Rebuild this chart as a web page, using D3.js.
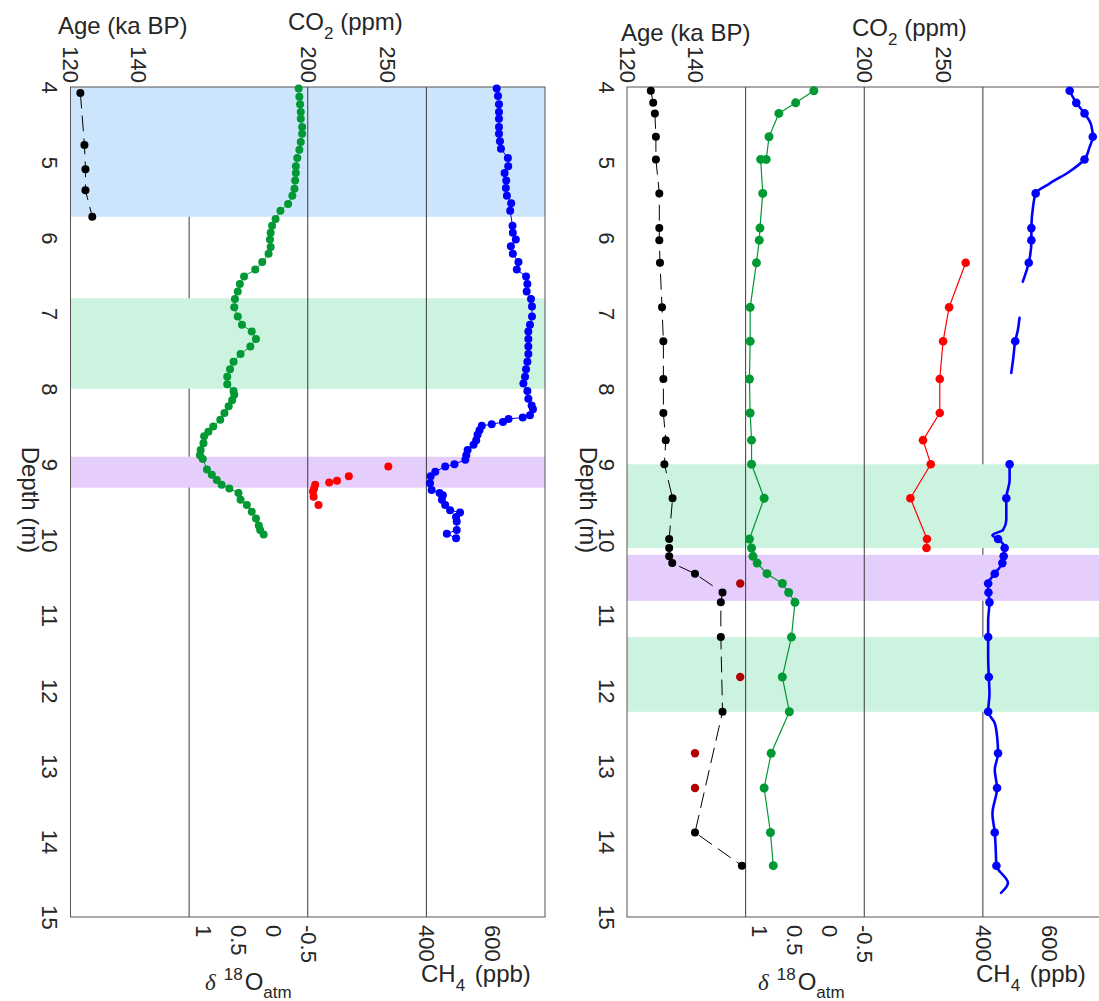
<!DOCTYPE html>
<html>
<head>
<meta charset="utf-8">
<script src="https://cdn.jsdelivr.net/npm/d3@7"></script>
<style>
  body { margin: 0; background: #fff; }
  svg text { font-family: "Liberation Sans", Arial, sans-serif; fill: #262626; }
</style>
</head>
<body>
<svg id="chart" width="1099" height="1001"></svg>
<script>
// ---- tick labels
const depthTicks = [4, 5, 6, 7, 8, 9, 10, 11, 12, 13, 14, 15];
const ageTicks = [120, 140];
const co2Ticks = [200, 250];
const isoTicks = [1, 0.5, 0, -0.5];
const ch4Ticks = [400, 600];

// ---- left core: shaded depth intervals
const bandStartL = [4.0, 6.80, 8.90];
const bandEndL = [5.72, 8.00, 9.31];
const bandKindL = ['blue', 'green', 'purple'];

// age (ka BP)
const ageDepthL = [4.08, 4.77, 5.09, 5.37, 5.72];
const ageL = [122.9, 124.1, 124.4, 124.4, 126.4];

// d18O atm (permil)
const isoDepthL = [4.02, 4.13, 4.23, 4.33, 4.42, 4.53, 4.62, 4.73, 4.83, 4.94,
  5.05, 5.14, 5.24, 5.35, 5.44, 5.55, 5.64, 5.75, 5.84, 5.93,
  6.02, 6.12, 6.21, 6.32, 6.42, 6.51, 6.61, 6.71, 6.81, 6.92,
  7.04, 7.15, 7.24, 7.34, 7.44, 7.54, 7.64, 7.74, 7.84, 7.94,
  8.03, 8.08, 8.15, 8.23, 8.32, 8.41, 8.50, 8.57, 8.63, 8.72,
  8.81, 8.88, 8.93, 9.07, 9.14, 9.21, 9.27, 9.32, 9.38, 9.47,
  9.54, 9.63, 9.72, 9.81, 9.87, 9.93];
const isoL = [-0.37, -0.38, -0.39, -0.40, -0.40, -0.42, -0.42, -0.40, -0.38, -0.35,
  -0.33, -0.33, -0.32, -0.31, -0.28, -0.22, -0.11, -0.04, 0.01, 0.03,
  0.04, 0.03, 0.06, 0.15, 0.25, 0.41, 0.47, 0.50, 0.54, 0.55,
  0.50, 0.44, 0.30, 0.24, 0.32, 0.46, 0.56, 0.61, 0.65, 0.65,
  0.56, 0.55, 0.58, 0.63, 0.69, 0.75, 0.85, 0.92, 0.98, 0.99,
  1.03, 1.04, 1.00, 0.94, 0.87, 0.80, 0.73, 0.62, 0.49, 0.46,
  0.37, 0.30, 0.24, 0.20, 0.18, 0.13];

// CO2 (ppm)
const co2DepthL = [9.03, 9.16, 9.22, 9.24, 9.27, 9.32, 9.36, 9.43, 9.54];
const co2L = [251, 226, 218.5, 213.6, 204.7, 204, 203.3, 203.7, 206.8];

// CH4 (ppb)
const ch4DepthL = [4.02, 4.12, 4.23, 4.33, 4.42, 4.53, 4.62, 4.72, 4.82, 4.94,
  5.05, 5.14, 5.24, 5.34, 5.44, 5.54, 5.64, 5.84, 5.93, 6.02,
  6.11, 6.21, 6.32, 6.42, 6.51, 6.61, 6.71, 6.81, 6.91, 7.04,
  7.15, 7.24, 7.34, 7.44, 7.54, 7.64, 7.74, 7.84, 7.93, 8.03,
  8.13, 8.22, 8.27, 8.35, 8.38, 8.40, 8.44, 8.47, 8.49, 8.55,
  8.61, 8.68, 8.74, 8.81, 8.88, 8.94, 9.00, 9.03, 9.10, 9.16,
  9.25, 9.34, 9.38, 9.41, 9.47, 9.54, 9.61, 9.64, 9.70, 9.76,
  9.87, 9.92, 9.98];
const ch4L = [613, 617, 620, 620, 620, 620, 620, 623, 626, 647,
  648, 637, 642, 641, 644, 657, 654, 661, 662, 671,
  656, 662, 679, 674, 702, 706, 704, 717, 720, 720,
  714, 709, 709, 709, 709, 706, 702, 699, 694, 706,
  709, 719, 723, 714, 692, 649, 632, 598, 568, 561,
  555, 551, 543, 525, 521, 518, 485, 457, 427, 413,
  411, 416, 440, 450, 447, 457, 472, 502, 490, 492,
  492, 462, 490];

// ---- right core
const bandStartR = [9.00, 10.20, 11.29];
const bandEndR = [10.11, 10.81, 12.28];
const bandKindR = ['green', 'purple', 'green'];

const ageDepthR = [4.05, 4.21, 4.35, 4.66, 4.96, 5.41, 5.87, 6.03, 6.33, 6.92,
  7.37, 7.87, 8.32, 8.68, 9.00, 9.45, 9.99, 10.11, 10.22, 10.31,
  10.45, 10.70, 10.83, 11.29, 12.28, 13.88, 14.32];
const ageR = [127.0, 127.7, 128.2, 128.5, 128.5, 129.5, 129.5, 129.5, 129.7, 130.3,
  130.7, 130.7, 130.7, 131.4, 131.0, 133.4, 132.4, 132.4, 132.4, 133.3,
  140.0, 148.1, 147.6, 147.6, 148.1, 140.0, 153.8];

// alternative age tie points (dark red)
const ageAltDepthR = [10.58, 11.82, 12.83, 13.29];
const ageAltR = [153.3, 153.3, 140.0, 140.0];

const isoDepthR = [4.05, 4.21, 4.35, 4.66, 4.96, 4.96, 5.41, 5.87, 6.03, 6.33,
  6.92, 7.37, 7.87, 8.32, 8.68, 9.00, 9.45, 9.99, 10.11, 10.22,
  10.31, 10.45, 10.58, 10.70, 10.83, 11.29, 11.82, 12.28, 12.83, 13.29,
  13.88, 14.32];
const isoR = [0.22, 0.48, 0.72, 0.86, 0.90, 0.98, 0.95, 0.99, 1.00, 1.04,
  1.13, 1.13, 1.14, 1.13, 1.11, 1.11, 0.93, 1.14, 1.11, 1.09,
  1.03, 0.89, 0.67, 0.58, 0.49, 0.54, 0.67, 0.57, 0.83, 0.93,
  0.84, 0.80];

const co2DepthR = [6.33, 6.92, 7.37, 7.87, 8.32, 8.68, 9.00, 9.45, 9.99, 10.11];
const co2R = [264.2, 253.7, 249.9, 247.8, 247.8, 237.2, 242.1, 229.2, 239.7, 239.4];

// continuous CH4 record (null = gap)
const ch4LineDepthR = [4.05, 4.21, 4.35, 4.5, 4.66, 4.8, 4.96, 5.12, 5.28, 5.41,
  5.59, 5.87, 6.03, 6.33, 6.58, 6.8,
  7.06, 7.22, 7.37, 7.6, 7.79, 8.5,
  9.00, 9.21, 9.45, 9.74, 9.87, 9.94, 9.99, 10.11, 10.22, 10.31,
  10.45, 10.58, 10.70, 10.83, 11.07, 11.29, 11.55, 11.82, 12.04, 12.28,
  12.43, 12.65, 12.83, 13.05, 13.29, 13.63, 13.88, 14.11, 14.32, 14.55,
  14.68];
const ch4LineR = [663, 683, 708, 728, 733, 723, 708, 663, 602, 560,
  552, 547, 547, 539, 521, null,
  511, 506, 498, 492, 486, null,
  481, 481, 471, 471, 461, 429, 446, 466, 463, 459,
  436, 416, 417, 420, 416, 416, 416, 418, 420, 416,
  436, 444, 446, 436, 443, 429, 436, 439, 441, 476,
  455];
// discrete CH4 samples
const ch4DepthR = [4.05, 4.21, 4.35, 4.66, 4.96, 5.41, 5.87, 6.03, 6.33, 7.37,
  9.00, 9.45, 9.99, 10.11, 10.22, 10.31, 10.45, 10.58, 10.70, 10.83,
  11.29, 11.82, 12.28, 12.83, 13.29, 13.88, 14.32];
const ch4R = [663, 683, 708, 733, 708, 560, 547, 547, 539, 498,
  481, 471, 446, 466, 463, 459, 436, 416, 417, 420,
  416, 418, 416, 446, 443, 436, 441];

// ---- layout
const svg = d3.select('#chart');
const plotTop = 87, plotBottom = 917;
const panelW = 474.5, colW = panelW / 4;
const bandColors = {blue: '#cce5fc', green: '#cbf3df', purple: '#e5cefc'};
const cGreen = '#009933', cBlue = '#0000ff', cRed = '#ff0000', cDarkRed = '#b30000';

const y = d3.scaleLinear().domain([4, 15]).range([plotTop, plotBottom]);
const zip = (ds, vs) => ds.map((d, i) => [d, vs[i]]);
const fmt = d => String(d);

const panels = [
  {
    x0: 70.5, underLines: [1],
    bands: zip(bandStartL, bandEndL).map((b, i) => [b[0], b[1], bandKindL[i]]),
    age: zip(ageDepthL, ageL), iso: zip(isoDepthL, isoL),
    co2: zip(co2DepthL, co2L), ch4: zip(ch4DepthL, ch4L),
    lab: {age: [58, 34], co2: [288, 30], iso: [205, 990], ch4: [421, 982], depth: 22}
  },
  {
    x0: 627, underLines: [3],
    bands: zip(bandStartR, bandEndR).map((b, i) => [b[0], b[1], bandKindR[i]]),
    age: zip(ageDepthR, ageR), ageAlt: zip(ageAltDepthR, ageAltR),
    iso: zip(isoDepthR, isoR), co2: zip(co2DepthR, co2R),
    ch4: zip(ch4DepthR, ch4R), ch4Line: zip(ch4LineDepthR, ch4LineR),
    lab: {age: [621, 41], co2: [852, 36], iso: [758, 990], ch4: [976, 982], depth: 580}
  }
];

function dots(g, data, xs, r, color) {
  g.append('g').selectAll('circle')
    .data(data)
    .enter()
    .append('circle')
    .attr('cx', d => xs(d[1]))
    .attr('cy', d => y(d[0]))
    .attr('r', r)
    .attr('fill', color);
}

function path(g, data, xs, color, width, dash, curve) {
  const line = d3.line()
    .defined(d => d[1] !== null)
    .x(d => xs(d[1]))
    .y(d => y(d[0]))
    .curve(curve || d3.curveLinear);
  g.append('path')
    .attr('d', line(data))
    .attr('fill', 'none')
    .attr('stroke', color)
    .attr('stroke-width', width)
    .attr('stroke-dasharray', dash || null)
    .attr('stroke-linejoin', 'round')
    .attr('stroke-linecap', 'round');
}

function topStyle(a) {
  a.select('.domain').remove();
  a.selectAll('text')
    .attr('transform', 'rotate(90)')
    .attr('x', -4).attr('y', 0).attr('dy', '0.35em')
    .attr('text-anchor', 'end')
    .style('font-size', '22px');
}

function bottomStyle(a) {
  a.select('.domain').remove();
  a.selectAll('text')
    .attr('transform', 'rotate(90)')
    .attr('x', 8).attr('y', 0).attr('dy', '0.35em')
    .attr('text-anchor', 'start')
    .style('font-size', '22px');
}

function leftStyle(a) {
  a.select('.domain').remove();
  a.selectAll('text')
    .attr('transform', 'rotate(90)')
    .attr('x', 0).attr('y', 28.5).attr('dy', null)
    .attr('text-anchor', 'middle')
    .style('font-size', '22px');
}

panels.forEach(p => {
  const g = svg.append('g');
  const x0 = p.x0;
  const xAge = d3.scaleLinear().domain([120, 140]).range([x0, x0 + 68]);
  const xIso = d3.scaleLinear().domain([-0.5, 1]).range([x0 + 2 * colW, x0 + 2 * colW - 105]);
  const xCO2 = d3.scaleLinear().domain([200, 250]).range([x0 + 2 * colW, x0 + 2 * colW + 79]);
  const xCH4 = d3.scaleLinear().domain([400, 600]).range([x0 + 3 * colW, x0 + 3 * colW + 66]);

  // column dividers, some of them sit under the shading
  const divider = i => g.append('line')
    .attr('x1', x0 + i * colW).attr('x2', x0 + i * colW)
    .attr('y1', plotTop).attr('y2', plotBottom)
    .attr('stroke', '#3a3a3a').attr('stroke-width', 1);
  p.underLines.forEach(divider);

  g.selectAll('rect.band')
    .data(p.bands)
    .enter()
    .append('rect')
    .attr('class', 'band')
    .attr('x', x0)
    .attr('width', panelW)
    .attr('y', d => y(d[0]))
    .attr('height', d => y(d[1]) - y(d[0]))
    .attr('fill', d => bandColors[d[2]]);

  [1, 2, 3].filter(i => p.underLines.indexOf(i) < 0).forEach(divider);

  g.append('rect')
    .attr('x', x0).attr('y', plotTop)
    .attr('width', panelW).attr('height', plotBottom - plotTop)
    .attr('fill', 'none').attr('stroke', '#555').attr('stroke-width', 1);

  // axes
  g.append('g').attr('transform', `translate(0,${plotTop})`)
    .call(d3.axisTop(xAge).tickValues(ageTicks).tickSize(0).tickFormat(fmt)).call(topStyle);
  g.append('g').attr('transform', `translate(0,${plotTop})`)
    .call(d3.axisTop(xCO2).tickValues(co2Ticks).tickSize(0).tickFormat(fmt)).call(topStyle);
  g.append('g').attr('transform', `translate(0,${plotBottom})`)
    .call(d3.axisBottom(xIso).tickValues(isoTicks).tickSize(0).tickFormat(fmt)).call(bottomStyle);
  g.append('g').attr('transform', `translate(0,${plotBottom})`)
    .call(d3.axisBottom(xCH4).tickValues(ch4Ticks).tickSize(0).tickFormat(fmt)).call(bottomStyle);
  g.append('g').attr('transform', `translate(${x0},0)`)
    .call(d3.axisLeft(y).tickValues(depthTicks).tickSize(0).tickFormat(fmt)).call(leftStyle);

  // series
  const right = !!p.ch4Line;
  path(g, p.age, xAge, '#000', 1, '15,8');
  if (right) {
    path(g, p.iso, xIso, cGreen, 1.2);
    path(g, p.co2, xCO2, cRed, 1.2);
    path(g, p.ch4Line, xCH4, cBlue, 2.6, null, d3.curveMonotoneY);
    dots(g, p.ageAlt, xAge, 4.2, cDarkRed);
  } else {
    path(g, p.iso, xIso, cGreen, 1);
    path(g, p.ch4, xCH4, cBlue, 1);
  }
  dots(g, p.age, xAge, 4, '#000');
  dots(g, p.iso, xIso, right ? 4.5 : 4, cGreen);
  dots(g, p.co2, xCO2, right ? 4.3 : 4, cRed);
  dots(g, p.ch4, xCH4, right ? 4.3 : 4, cBlue);

  // titles
  g.append('text')
    .attr('x', p.lab.age[0]).attr('y', p.lab.age[1])
    .style('font-size', '24px')
    .text('Age (ka BP)');

  const co2Title = g.append('text')
    .attr('x', p.lab.co2[0]).attr('y', p.lab.co2[1])
    .style('font-size', '24px');
  co2Title.append('tspan').text('CO');
  co2Title.append('tspan').attr('dy', 9).style('font-size', '17px').text('2');
  co2Title.append('tspan').attr('dy', -9).text('\u00a0(ppm)');

  const isoTitle = g.append('text')
    .attr('x', p.lab.iso[0]).attr('y', p.lab.iso[1])
    .style('font-size', '24px');
  isoTitle.append('tspan')
    .style('font-family', '"Liberation Serif", serif')
    .style('font-style', 'italic')
    .style('font-size', '23px')
    .text('\u03b4');
  isoTitle.append('tspan').attr('dx', 8).attr('dy', -10).style('font-size', '17px').text('18');
  isoTitle.append('tspan').attr('dx', 2).attr('dy', 10).text('O');
  isoTitle.append('tspan').attr('dy', 8).style('font-size', '17px').text('atm');

  const ch4Title = g.append('text')
    .attr('x', p.lab.ch4[0]).attr('y', p.lab.ch4[1])
    .style('font-size', '24px');
  ch4Title.append('tspan').text('CH');
  ch4Title.append('tspan').attr('dy', 9).style('font-size', '17px').text('4');
  ch4Title.append('tspan').attr('dy', -9).attr('dx', 3).text('\u00a0(ppb)');

  g.append('text')
    .attr('transform', `translate(${p.lab.depth},500) rotate(90)`)
    .attr('text-anchor', 'middle')
    .style('font-size', '24px')
    .text('Depth (m)');
});
</script>
</body>
</html>
